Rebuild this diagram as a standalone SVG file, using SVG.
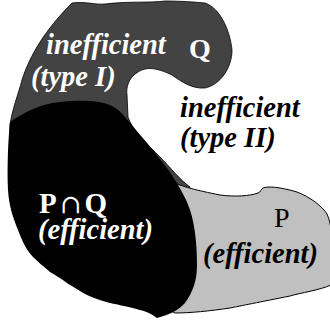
<svg xmlns="http://www.w3.org/2000/svg" width="330" height="323" viewBox="0 0 330 323">
<style>
.t{font-family:"Liberation Serif","Times New Roman",serif;font-weight:bold;font-style:italic;font-size:28.5px}
.r{font-family:"Liberation Serif","Times New Roman",serif;font-size:26px}
.w{fill:#ffffff}
.k{fill:#000000}
</style>
<rect width="330" height="323" fill="#ffffff"/>
<g id="setQ">
<path d="M72,3 C85,1 95,5 105,4 C130,1 150,3 165,1 C180,1 195,2 205,3 C220,8 230,30 232,50 C232,68 220,85 205,88 C192,89 182,82 172,75 C165,72 150,64 138,72 C128,78 126,88 127,95 L128,117 C132,130 148,145 160,157 C170,167 180,180 190,187 L185,215 L10,200 L10,125 C12,110 18,95 22,80 C30,55 45,30 72,3 Z" fill="#434343" stroke="#000" stroke-width="0.8"/>
</g>
<g id="setP">
<path d="M177,184 C185,187 195,190 220,195 C235,197 250,196 258,193 C261,192 261,189 263,188 C268,186 280,187 297,192 C310,197 322,206 327,214 C332,225 331,235 331,245 L331,285 C320,290 300,293 290,296 C260,302 240,306 230,308 C210,311 190,313 175,313 L150,300 L150,200 Z" fill="#c0c0c0" stroke="#000" stroke-width="1"/>
</g>
<g id="setPQ">
<path d="M10,122 C25,112 40,104 60,102 C80,100 100,100 112,106 C120,110 125,117 130,123 L153,150 C160,160 168,168 173,177 C180,188 186,198 190,210 C195,225 197,245 197,265 C197,280 193,292 185,303 C178,311 168,315 157,318 C150,313 145,311 140,310 C125,306 115,304 110,303 C100,300 93,298 87,295 C78,290 72,286 67,283 C60,278 55,275 50,272 C43,266 38,262 33,257 C25,248 22,240 18,230 C12,215 9,205 8,190 C7,170 8,140 10,122 Z" fill="#000"/>
</g>
<g id="labels">
<text class="t w" x="46" y="54">inefficient</text>
<text class="t w" x="31" y="86">(type I)</text>
<text class="r w" x="189" y="58" style="font-weight:bold;font-size:28px">Q</text>
<text class="t k" x="180" y="117">inefficient</text>
<text class="t k" x="180" y="147">(type II)</text>
<text class="r w" x="39" y="213" style="font-weight:bold;font-size:29px">P<tspan dx="3" style="font-family:'DejaVu Serif',serif;font-weight:normal;font-size:26px">∩</tspan><tspan dx="3">Q</tspan></text>
<text class="t w" x="38" y="239">(efficient)</text>
<text class="r k" x="274" y="227" style="font-size:28px">P</text>
<text class="t k" x="203" y="263">(efficient)</text>
</g>
</svg>
